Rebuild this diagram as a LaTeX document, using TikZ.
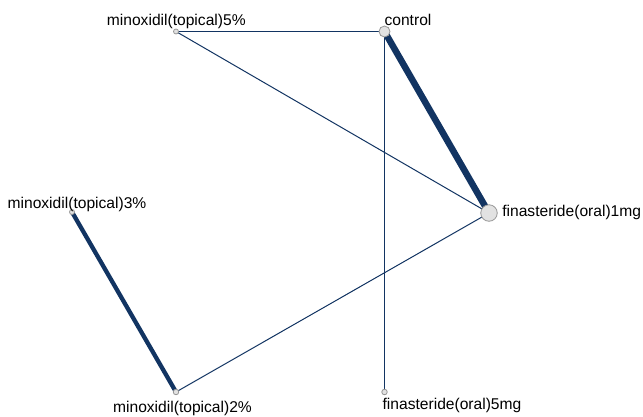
\documentclass[tikz,border=0pt]{standalone}
\usepackage{fontspec}
\setmainfont{Liberation Sans}
\definecolor{edgecol}{RGB}{18,52,98}
\definecolor{nodefill}{RGB}{226,226,226}
\definecolor{nodeline}{RGB}{150,150,150}
\begin{document}
\begin{tikzpicture}[x=1pt,y=-1pt,
  trt/.style={circle,draw=nodeline,fill=nodefill,line width=0.8pt,inner sep=0pt},
  lab/.style={anchor=base,inner sep=0pt,font=\fontsize{15.6}{18}\selectfont},
  thinedge/.style={draw=edgecol,line width=1pt},
]
\useasboundingbox (0,0) rectangle (643,416);
% node positions
\coordinate (cC) at (384.5,31.5);
\coordinate (cM5) at (176,31.5);
\coordinate (cF1) at (489,213);
\coordinate (cM3) at (72,212);
\coordinate (cM2) at (176,392);
\coordinate (cF5) at (384.5,392);
% edges
\draw[thinedge] (cM5) -- (cC);
\draw[thinedge] (cM5) -- (cF1);
\draw[thinedge] (cC) -- (cF5);
\draw[thinedge] (cM2) -- (cF1);
\draw[draw=edgecol,line width=6.5pt] (cC) -- (cF1);
\draw[draw=edgecol,line width=4.3pt] (cM3) -- (cM2);
% nodes
\node[trt,minimum size=11pt] (C) at (cC) {};
\node[trt,minimum size=5pt] (M5) at (cM5) {};
\node[trt,minimum size=16.5pt] (F1) at (cF1) {};
\node[trt,minimum size=5pt] (M3) at (cM3) {};
\node[trt,minimum size=5.5pt] (M2) at (cM2) {};
\node[trt,minimum size=5.5pt] (F5) at (cF5) {};
% labels
\node[lab] (lC) at (408,25) {control};
\node[lab] (lM5) at (176.3,25.5) {minoxidil(topical)5\%};
\node[lab] (lF1) at (571.7,216.5) {finasteride(oral)1mg};
\node[lab] (lM3) at (77,208) {minoxidil(topical)3\%};
\node[lab] (lM2) at (182.5,412) {minoxidil(topical)2\%};
\node[lab] (lF5) at (452,409) {finasteride(oral)5mg};
\end{tikzpicture}
\end{document}
